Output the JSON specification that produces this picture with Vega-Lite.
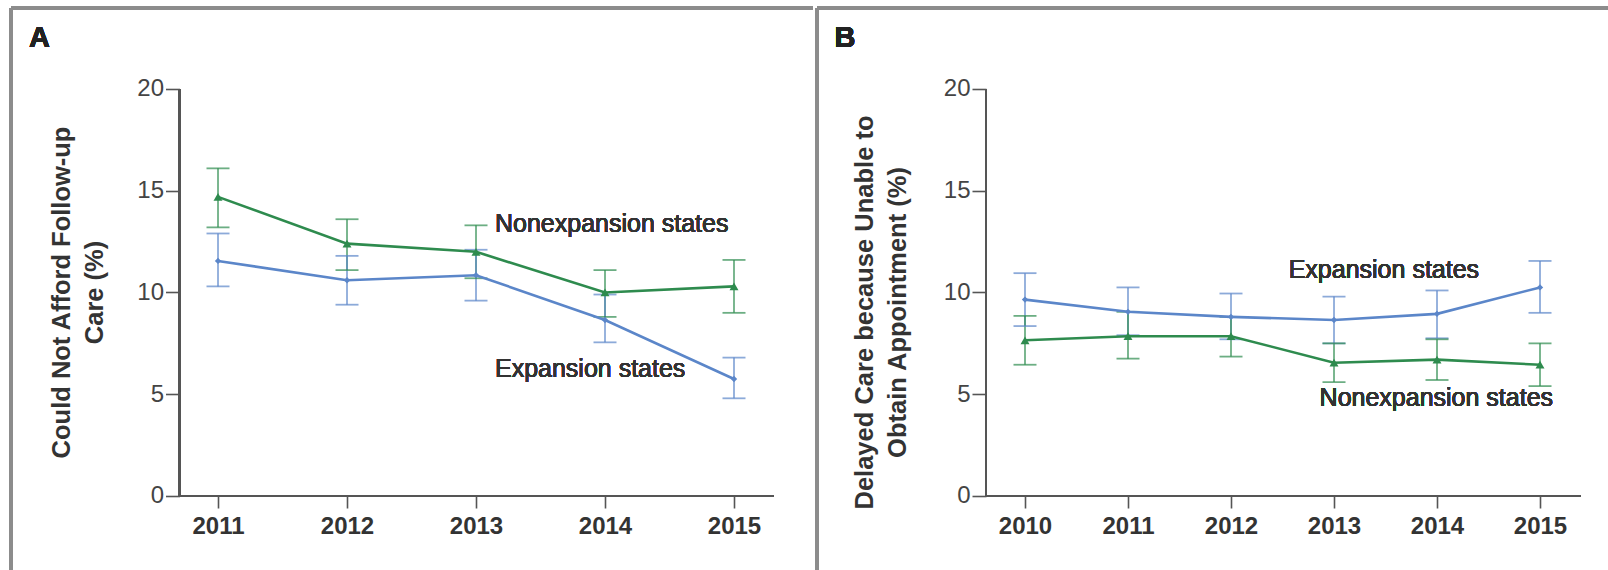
{
  "$schema": "https://vega.github.io/schema/vega-lite/v6.json",
  "padding": {"left": 9, "top": 6, "right": 0, "bottom": 0},
  "spacing": 0,
  "config": {"view": {"stroke": null}, "font": "Liberation Sans", "axis": {"grid": false, "domain": false}},
  "datasets": {
    "a": [
      {"year": 2011, "group": "Nonexpansion states", "value": 14.7, "lo": 13.2, "hi": 16.1},
      {"year": 2012, "group": "Nonexpansion states", "value": 12.4, "lo": 11.1, "hi": 13.6},
      {"year": 2013, "group": "Nonexpansion states", "value": 12.0, "lo": 10.7, "hi": 13.3},
      {"year": 2014, "group": "Nonexpansion states", "value": 10.0, "lo": 8.8, "hi": 11.1},
      {"year": 2015, "group": "Nonexpansion states", "value": 10.3, "lo": 9.0, "hi": 11.6},
      {"year": 2011, "group": "Expansion states", "value": 11.55, "lo": 10.3, "hi": 12.9},
      {"year": 2012, "group": "Expansion states", "value": 10.6, "lo": 9.4, "hi": 11.8},
      {"year": 2013, "group": "Expansion states", "value": 10.85, "lo": 9.6, "hi": 12.1},
      {"year": 2014, "group": "Expansion states", "value": 8.65, "lo": 7.55, "hi": 9.9},
      {"year": 2015, "group": "Expansion states", "value": 5.75, "lo": 4.8, "hi": 6.8}
    ],
    "b": [
      {"year": 2010, "group": "Expansion states", "value": 9.65, "lo": 8.35, "hi": 10.95},
      {"year": 2011, "group": "Expansion states", "value": 9.05, "lo": 7.9, "hi": 10.25},
      {"year": 2012, "group": "Expansion states", "value": 8.8, "lo": 7.7, "hi": 9.95},
      {"year": 2013, "group": "Expansion states", "value": 8.65, "lo": 7.5, "hi": 9.8},
      {"year": 2014, "group": "Expansion states", "value": 8.95, "lo": 7.75, "hi": 10.1},
      {"year": 2015, "group": "Expansion states", "value": 10.25, "lo": 9.0, "hi": 11.55},
      {"year": 2010, "group": "Nonexpansion states", "value": 7.65, "lo": 6.45, "hi": 8.85},
      {"year": 2011, "group": "Nonexpansion states", "value": 7.85, "lo": 6.75, "hi": 9.05},
      {"year": 2012, "group": "Nonexpansion states", "value": 7.85, "lo": 6.85, "hi": 8.8},
      {"year": 2013, "group": "Nonexpansion states", "value": 6.55, "lo": 5.6, "hi": 7.5},
      {"year": 2014, "group": "Nonexpansion states", "value": 6.7, "lo": 5.7, "hi": 7.7},
      {"year": 2015, "group": "Nonexpansion states", "value": 6.45, "lo": 5.4, "hi": 7.5}
    ]
  },
  "hconcat": [
    {
      "width": 802, "height": 564,
      "data": {"name": "a"},
      "layer": [
        {"mark": {"type": "rule", "strokeWidth": 1.8, "opacity": 0.7},
         "encoding": {
           "x": {"field": "year", "type": "quantitative", "scale": {"domain": [2009.3953, 2015.6124], "nice": false, "zero": false},
                 "axis": {"values": [2011, 2012, 2013, 2014, 2015], "format": "d", "offset": -76, "tickSize": 12, "tickColor": "#555", "tickWidth": 1.6, "labelFontSize": 24, "labelFontWeight": "bold", "labelColor": "#333", "labelPadding": 6, "title": null}},
           "y": {"field": "lo", "type": "quantitative", "scale": {"domain": [-3.735, 23.98], "nice": false, "zero": false},
                 "axis": {"values": [0, 5, 10, 15, 20], "offset": -168.5, "tickSize": 14, "tickColor": "#555", "tickWidth": 1.6, "labelFontSize": 24, "labelColor": "#444", "labelPadding": 2,
                          "title": ["Could Not Afford Follow-up", "Care (%)"], "titleFontSize": 25.5, "titleFontWeight": "bold", "titleColor": "#333", "titleLineHeight": 33, "titleAngle": -90, "titleBaseline": "middle", "titleAlign": "center", "titleX": -118, "titleY": 284}},
           "y2": {"field": "hi"},
           "color": {"field": "group", "type": "nominal", "scale": {"domain": ["Expansion states", "Nonexpansion states"], "range": ["#5b86c9", "#2e8b4e"]}, "legend": null}
         }},
        {"mark": {"type": "tick", "orient": "horizontal", "size": 23, "thickness": 1.8, "opacity": 0.7},
         "encoding": {"x": {"field": "year", "type": "quantitative"}, "y": {"field": "lo", "type": "quantitative"}, "color": {"field": "group", "type": "nominal", "legend": null}}},
        {"mark": {"type": "tick", "orient": "horizontal", "size": 23, "thickness": 1.8, "opacity": 0.7},
         "encoding": {"x": {"field": "year", "type": "quantitative"}, "y": {"field": "hi", "type": "quantitative"}, "color": {"field": "group", "type": "nominal", "legend": null}}},
        {"mark": {"type": "line", "strokeWidth": 2.6},
         "encoding": {"x": {"field": "year", "type": "quantitative"}, "y": {"field": "value", "type": "quantitative"}, "color": {"field": "group", "type": "nominal", "legend": null}}},
        {"mark": {"type": "point", "filled": true, "opacity": 1},
         "encoding": {"x": {"field": "year", "type": "quantitative"}, "y": {"field": "value", "type": "quantitative"}, "color": {"field": "group", "type": "nominal", "legend": null},
                      "shape": {"field": "group", "type": "nominal", "scale": {"domain": ["Expansion states", "Nonexpansion states"], "range": ["diamond", "triangle-up"]}, "legend": null},
                      "size": {"field": "group", "type": "nominal", "scale": {"domain": ["Expansion states", "Nonexpansion states"], "range": [40, 80]}, "legend": null}}},
        {"mark": {"type": "rule", "color": "#8c8c8c", "strokeWidth": 3},
         "encoding": {"x": {"datum": 2009.3953, "type": "quantitative"}, "x2": {"datum": 2015.6124}, "y": {"datum": 23.98, "type": "quantitative"}}},
        {"mark": {"type": "rule", "color": "#8c8c8c", "strokeWidth": 3},
         "encoding": {"x": {"datum": 2009.3953, "type": "quantitative"}, "y": {"datum": -3.735, "type": "quantitative"}, "y2": {"datum": 23.98}}},
        {"mark": {"type": "rule", "color": "#555", "strokeWidth": 2},
         "encoding": {"x": {"datum": 2010.7016, "type": "quantitative"}, "y": {"datum": 0, "type": "quantitative"}, "y2": {"datum": 20}}},
        {"mark": {"type": "rule", "color": "#555", "strokeWidth": 2},
         "encoding": {"x": {"datum": 2010.7016, "type": "quantitative"}, "x2": {"datum": 2015.3101}, "y": {"datum": 0, "type": "quantitative"}}},
        {"mark": {"type": "text", "text": "A", "fontSize": 29, "fontWeight": "bold", "color": "#222", "align": "center", "baseline": "middle"},
         "encoding": {"x": {"datum": 2009.6163, "type": "quantitative"}, "y": {"datum": 22.506, "type": "quantitative"}}},
        {"mark": {"type": "text", "text": "Nonexpansion states", "fontSize": 25, "color": "#333", "align": "left", "baseline": "middle"},
         "encoding": {"x": {"datum": 2013.147, "type": "quantitative"}, "y": {"datum": 13.37, "type": "quantitative"}}},
        {"mark": {"type": "text", "text": "Expansion states", "fontSize": 25, "color": "#333", "align": "left", "baseline": "middle"},
         "encoding": {"x": {"datum": 2013.147, "type": "quantitative"}, "y": {"datum": 6.24, "type": "quantitative"}}}
      ]
    },
    {
      "width": 797, "height": 564,
      "data": {"name": "b"},
      "layer": [
        {"mark": {"type": "rule", "strokeWidth": 1.8, "opacity": 0.7},
         "encoding": {
           "x": {"field": "year", "type": "quantitative", "scale": {"domain": [2007.9806, 2015.7184], "nice": false, "zero": false},
                 "axis": {"values": [2010, 2011, 2012, 2013, 2014, 2015], "format": "d", "offset": -76, "tickSize": 12, "tickColor": "#555", "tickWidth": 1.6, "labelFontSize": 24, "labelFontWeight": "bold", "labelColor": "#333", "labelPadding": 6, "title": null}},
           "y": {"field": "lo", "type": "quantitative", "scale": {"domain": [-3.735, 23.98], "nice": false, "zero": false},
                 "axis": {"values": [0, 5, 10, 15, 20], "offset": -169, "tickSize": 14, "tickColor": "#555", "tickWidth": 1.6, "labelFontSize": 24, "labelColor": "#444", "labelPadding": 2,
                          "title": ["Delayed Care because Unable to", "Obtain Appointment (%)"], "titleFontSize": 25.5, "titleFontWeight": "bold", "titleColor": "#333", "titleLineHeight": 33, "titleAngle": -90, "titleBaseline": "middle", "titleAlign": "center", "titleX": -122, "titleY": 304}},
           "y2": {"field": "hi"},
           "color": {"field": "group", "type": "nominal", "scale": {"domain": ["Expansion states", "Nonexpansion states"], "range": ["#5b86c9", "#2e8b4e"]}, "legend": null}
         }},
        {"mark": {"type": "tick", "orient": "horizontal", "size": 23, "thickness": 1.8, "opacity": 0.7},
         "encoding": {"x": {"field": "year", "type": "quantitative"}, "y": {"field": "lo", "type": "quantitative"}, "color": {"field": "group", "type": "nominal", "legend": null}}},
        {"mark": {"type": "tick", "orient": "horizontal", "size": 23, "thickness": 1.8, "opacity": 0.7},
         "encoding": {"x": {"field": "year", "type": "quantitative"}, "y": {"field": "hi", "type": "quantitative"}, "color": {"field": "group", "type": "nominal", "legend": null}}},
        {"mark": {"type": "line", "strokeWidth": 2.6},
         "encoding": {"x": {"field": "year", "type": "quantitative"}, "y": {"field": "value", "type": "quantitative"}, "color": {"field": "group", "type": "nominal", "legend": null}}},
        {"mark": {"type": "point", "filled": true, "opacity": 1},
         "encoding": {"x": {"field": "year", "type": "quantitative"}, "y": {"field": "value", "type": "quantitative"}, "color": {"field": "group", "type": "nominal", "legend": null},
                      "shape": {"field": "group", "type": "nominal", "scale": {"domain": ["Expansion states", "Nonexpansion states"], "range": ["diamond", "triangle-up"]}, "legend": null},
                      "size": {"field": "group", "type": "nominal", "scale": {"domain": ["Expansion states", "Nonexpansion states"], "range": [40, 80]}, "legend": null}}},
        {"mark": {"type": "rule", "color": "#8c8c8c", "strokeWidth": 3},
         "encoding": {"x": {"datum": 2007.9806, "type": "quantitative"}, "x2": {"datum": 2015.7184}, "y": {"datum": 23.98, "type": "quantitative"}}},
        {"mark": {"type": "rule", "color": "#8c8c8c", "strokeWidth": 3},
         "encoding": {"x": {"datum": 2007.9806, "type": "quantitative"}, "y": {"datum": -3.735, "type": "quantitative"}, "y2": {"datum": 23.98}}},
        {"mark": {"type": "rule", "color": "#555", "strokeWidth": 2},
         "encoding": {"x": {"datum": 2009.6214, "type": "quantitative"}, "y": {"datum": 0, "type": "quantitative"}, "y2": {"datum": 20}}},
        {"mark": {"type": "rule", "color": "#555", "strokeWidth": 2},
         "encoding": {"x": {"datum": 2009.6214, "type": "quantitative"}, "x2": {"datum": 2015.398}, "y": {"datum": 0, "type": "quantitative"}}},
        {"mark": {"type": "text", "text": "B", "fontSize": 29, "fontWeight": "bold", "color": "#222", "align": "center", "baseline": "middle"},
         "encoding": {"x": {"datum": 2008.2524, "type": "quantitative"}, "y": {"datum": 22.52, "type": "quantitative"}}},
        {"mark": {"type": "text", "text": "Expansion states", "fontSize": 25, "color": "#333", "align": "left", "baseline": "middle"},
         "encoding": {"x": {"datum": 2012.56, "type": "quantitative"}, "y": {"datum": 11.1, "type": "quantitative"}}},
        {"mark": {"type": "text", "text": "Nonexpansion states", "fontSize": 25, "color": "#333", "align": "left", "baseline": "middle"},
         "encoding": {"x": {"datum": 2012.86, "type": "quantitative"}, "y": {"datum": 4.8, "type": "quantitative"}}}
      ]
    }
  ]
}
